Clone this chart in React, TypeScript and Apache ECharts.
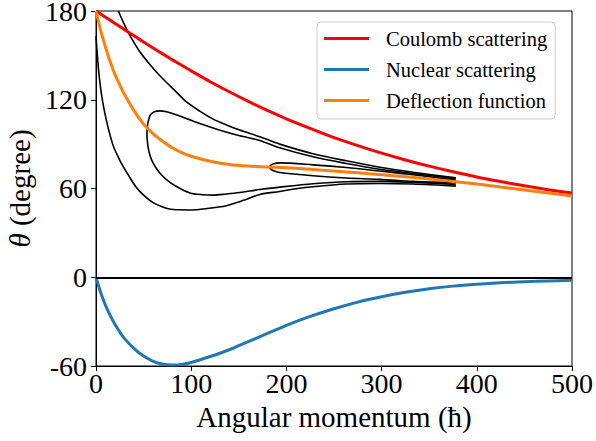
import React, { useEffect, useRef } from 'react';
import * as echarts from 'echarts';

// Angular momentum grid for the three smooth curves
const L = [0, 5, 10, 15, 20, 25, 30, 40, 50, 60, 70, 80, 90, 100, 120, 140, 160, 180, 200, 225, 250, 275, 300, 325, 350, 375, 400, 425, 450, 475, 500];
const coulomb = [180, 177.9, 175.8, 173.7, 171.6, 169.5, 167.4, 163.2, 159.1, 155.0, 151.0, 147.1, 143.3, 139.5, 132.2, 125.4, 118.9, 112.8, 107.1, 100.6, 94.4, 89.0, 83.9, 79.3, 75.1, 71.3, 67.8, 64.7, 61.8, 59.2, 56.9];
const nuclear = [0, -10.5, -19, -26, -32, -37, -41.5, -48.2, -53.3, -56.8, -58.7, -59.3, -58.9, -57.6, -53.6, -49, -43.5, -38, -32.5, -26.5, -21.3, -16.8, -13.2, -10.2, -7.8, -6.0, -4.7, -3.7, -3.0, -2.5, -2.1];
const deflection = [180, 166.5, 155.5, 145.5, 137, 130, 123.5, 112.5, 103.5, 97, 92, 87.6, 84.3, 81.8, 78.4, 76.3, 75.2, 74.6, 74.0, 73.0, 71.8, 70.6, 69.3, 68.0, 66.5, 64.8, 63.0, 61.0, 59.0, 57.0, 55.0];

// Black contour lines
const contourA_L = [0, 3.5, 8.8, 17.5, 25, 28, 35, 42, 50, 59.5, 68, 77, 88, 100, 115, 137, 155, 172, 193, 210, 228, 263, 298, 333, 378];
const contourA_V = [163, 135, 112.5, 90, 79, 75.5, 68, 61, 55.5, 50.6, 48, 46.2, 45.6, 45.5, 46.3, 48.4, 52, 56, 58, 59.8, 61.2, 63, 63.4, 63, 61.6];

const contourB_L = [23.5, 29, 35, 45.5, 59.5, 72, 84, 95, 109, 123, 137, 151, 172, 193, 228, 263, 298, 333, 378];
const contourB_V = [180, 172, 164.2, 153, 141.7, 133, 125.5, 118.5, 112.3, 106.9, 103, 99.5, 95, 90, 83.5, 78.7, 74.4, 71.0, 67.2];

const contourC_L = [378, 333, 298, 263, 228, 193, 172, 151, 127, 106, 90, 81, 74, 67, 61, 57.5, 56, 54.2, 53.5, 54.3, 56, 59, 63, 67, 74, 84, 98.7, 112, 123, 137, 151, 172, 193, 228, 263, 298, 333, 378];
const contourC_V = [66.4, 70.2, 73.0, 76.9, 81.4, 87.5, 92.5, 95.6, 100.1, 104.6, 108.5, 110.5, 111.9, 112.5, 111.8, 110, 108, 103, 97, 90, 84, 78.5, 74, 70.5, 66, 61.5, 57, 55.8, 55.5, 56.3, 57.3, 59.3, 60.9, 63.2, 64.6, 64.8, 64.1, 62.8];

const contourD_L = [378, 333, 298, 263, 228, 193, 186, 183.5, 182.6, 183.5, 186, 193, 228, 263, 298, 333, 378];
const contourD_V = [65.6, 69.3, 71.8, 74.2, 76, 77.3, 76.6, 75.6, 74.3, 73.1, 72.2, 70.8, 68.6, 67.1, 66.2, 64.8, 63.8];

const xTicks = { min: 0, max: 500, interval: 100 };
const yTicks = { min: -60, max: 180, interval: 60 };

const FONT = 'Times New Roman, Liberation Serif, DejaVu Serif, serif';

const zip = (xs: number[], ys: number[]) => xs.map((x, i) => [x, ys[i]]);

export default function App() {
  const ref = useRef<HTMLDivElement>(null);
  useEffect(() => {
    const chart = echarts.init(ref.current!, null, { renderer: 'svg' });
    const contour = (data: number[][]) => ({
      type: 'line',
      data,
      showSymbol: false,
      silent: true,
      smooth: 0.3,
      lineStyle: { color: '#000', width: 1.6 },
      itemStyle: { color: '#000' },
      z: 2,
    });
    const option: any = {
      animation: false,
      backgroundColor: '#fff',
      textStyle: { fontFamily: FONT },
      grid: {
        left: 96, right: 24, top: 11, bottom: 75, show: true, borderColor: '#000', borderWidth: 1,
        backgroundColor: 'transparent', containLabel: false, outerBoundsMode: 'none',
      },
      legend: {
        data: ['Coulomb scattering', 'Nuclear scattering', 'Deflection function'],
        orient: 'vertical',
        left: 317,
        top: 22,
        icon: 'rect',
        itemWidth: 45,
        itemHeight: 3,
        itemGap: 10,
        padding: [6, 8, 8, 7],
        backgroundColor: '#fff',
        borderColor: '#cccccc',
        borderWidth: 1,
        borderRadius: 4,
        textStyle: { fontFamily: FONT, fontSize: 20.5, color: '#000', lineHeight: 20, padding: [0, 0, 0, 12] },
      },
      xAxis: {
        type: 'value',
        ...xTicks,
        name: 'Angular momentum (ħ)',
        nameLocation: 'middle',
        nameGap: 36,
        nameTextStyle: { fontFamily: FONT, fontSize: 29, color: '#000' },
        axisLine: { show: true, onZero: false, lineStyle: { color: '#000', width: 1 } },
        axisTick: { show: true, inside: false, length: 5, lineStyle: { color: '#000', width: 1 } },
        splitLine: { show: false },
        axisLabel: { color: '#000', fontFamily: FONT, fontSize: 28, margin: 6, lineHeight: 22 },
      },
      yAxis: {
        type: 'value',
        ...yTicks,
        name: '{i|θ} (degree)',
        nameLocation: 'middle',
        nameGap: 61,
        nameRotate: 90,
        nameTextStyle: {
          fontFamily: FONT, fontSize: 29, color: '#000',
          rich: { i: { fontFamily: FONT, fontSize: 29, fontStyle: 'italic', color: '#000' } },
        },
        axisLine: { show: true, onZero: false, lineStyle: { color: '#000', width: 1 } },
        axisTick: { show: true, inside: false, length: 5, lineStyle: { color: '#000', width: 1 } },
        splitLine: { show: false },
        axisLabel: { color: '#000', fontFamily: FONT, fontSize: 28, margin: 9, lineHeight: 20 },
      },
      series: [
        contour(zip(contourA_L, contourA_V)),
        contour(zip(contourB_L, contourB_V)),
        contour(zip(contourC_L, contourC_V)),
        contour(zip(contourD_L, contourD_V)),
        {
          name: 'Coulomb scattering', type: 'line', data: zip(L, coulomb), showSymbol: false, smooth: 0.3,
          lineStyle: { color: '#ff0000', width: 3 }, itemStyle: { color: '#ff0000' }, z: 3,
        },
        {
          name: 'Nuclear scattering', type: 'line', data: zip(L, nuclear), showSymbol: false, smooth: 0.3,
          lineStyle: { color: '#1f77b4', width: 3 }, itemStyle: { color: '#1f77b4' }, z: 3,
          markLine: {
            silent: true, symbol: 'none', animation: false,
            label: { show: false },
            lineStyle: { color: '#000', width: 2, type: 'solid' },
            data: [{ yAxis: 0 }],
          },
        },
        {
          name: 'Deflection function', type: 'line', data: zip(L, deflection), showSymbol: false, smooth: 0.3,
          lineStyle: { color: '#ff7f0e', width: 3 }, itemStyle: { color: '#ff7f0e' }, z: 3,
        },
      ],
    };
    chart.setOption(option);
    return () => chart.dispose();
  }, []);
  return <div ref={ref} style={{ position: 'fixed', left: 0, top: 0, width: 596, height: 441, background: '#fff' }} />;
}
